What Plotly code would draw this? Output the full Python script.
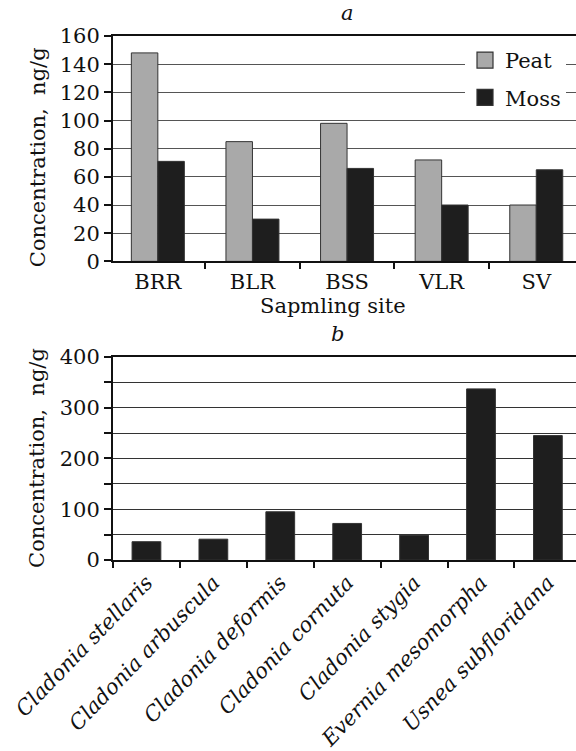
import plotly.graph_objects as go

# ---- data ----
sites = ["BRR", "BLR", "BSS", "VLR", "SV"]
peat = [148, 85, 98, 72, 40]
moss = [71, 30, 66, 40, 65]

species = ["Cladonia stellaris", "Cladonia arbuscula", "Cladonia deformis",
           "Cladonia cornuta", "Cladonia stygia", "Evernia mesomorpha",
           "Usnea subfloridana"]
lichen = [36, 41, 95, 72, 49, 337, 245]

top_ticks = [0, 20, 40, 60, 80, 100, 120, 140, 160]
bot_ticks = [0, 50, 100, 150, 200, 250, 300, 350, 400]
bot_ticktext = ["0", "", "100", "", "200", "", "300", "", "400"]

FONT = "DejaVu Serif"
FS = 21
W, H = 576, 751
L, R, T, B = 113, 0, 36, 181
PW, PH = W - L - R, H - T - B

PEAT_C, MOSS_C, EDGE_C = "#a9a9a9", "#1e1e1e", "#333333"


def px_x(x):
    return (x - L) / PW


def px_y(y):
    return 1 - (y - T) / PH


fig = go.Figure()
fig.add_trace(go.Bar(x=sites, y=peat, name="Peat", xaxis="x", yaxis="y",
                     marker=dict(color=PEAT_C, line=dict(color=EDGE_C, width=1)),
                     showlegend=False))
fig.add_trace(go.Bar(x=sites, y=moss, name="Moss", xaxis="x", yaxis="y",
                     marker=dict(color=MOSS_C, line=dict(color=EDGE_C, width=1)),
                     showlegend=False))
# legend entries (larger square swatches than the bar default)
for nm, col, grp in (("Peat", PEAT_C, "p"), ("Moss", MOSS_C, "m")):
    fig.add_trace(go.Scatter(x=[None], y=[None], name=nm, mode="markers",
                             xaxis="x", yaxis="y", legendgroup=grp,
                             marker=dict(symbol="square", size=16, color=col,
                                         line=dict(color=EDGE_C, width=1.2))))
fig.add_trace(go.Bar(x=species, y=lichen, name="Lichen", xaxis="x2", yaxis="y2",
                     width=0.43, showlegend=False,
                     marker=dict(color=MOSS_C, line=dict(color=EDGE_C, width=1))))

axis_common = dict(showline=True, linecolor="#111111", linewidth=2,
                   ticks="outside", tickcolor="#111111", tickwidth=1.5,
                   tickfont=dict(family=FONT, size=FS, color="#111111"))

fig.update_layout(
    width=W, height=H,
    margin=dict(l=L, r=R, t=T, b=B, pad=0),
    paper_bgcolor="white", plot_bgcolor="white",
    font=dict(family=FONT, size=FS, color="#111111"),
    barmode="group", bargap=0.44, bargroupgap=0,
    xaxis=dict(domain=[0, 1], anchor="y", type="category",
               range=[-0.474, 4.42], tickson="boundaries", ticklen=6,
               mirror=True, showgrid=False, **axis_common),
    yaxis=dict(domain=[0.5699, 1], anchor="x", range=[0, 160],
               tickvals=top_ticks, ticklen=7, showgrid=True,
               gridcolor="#555555", gridwidth=1, zeroline=False, **axis_common),
    xaxis2=dict(domain=[0, 1], anchor="y2", type="category",
                range=[-0.5, 6.42], tickson="boundaries", ticklen=6,
                tickangle=-46, mirror=True, showgrid=False,
                **{**axis_common,
                   "tickfont": dict(family=FONT, size=FS, color="#111111", style="italic")}),
    yaxis2=dict(domain=[0, 0.3876], anchor="x2", range=[0, 400],
                tickvals=bot_ticks, ticktext=bot_ticktext, ticklen=7,
                showgrid=True, gridcolor="#333333", gridwidth=1, zeroline=False,
                **axis_common),
    legend=dict(x=px_x(465), y=px_y(40), xanchor="left", yanchor="top",
                bgcolor="white", borderwidth=0, traceorder="grouped",
                tracegroupgap=7, itemsizing="trace",
                font=dict(family=FONT, size=FS, color="#111111")),
    showlegend=True,
)

ann = [
    dict(text="<i>a</i>", xref="x", yref="paper", x=2, y=px_y(13)),
    dict(text="Sapmling site", xref="paper", yref="paper", x=px_x(333), y=px_y(311)),
    dict(text="<i>b</i>", xref="paper", yref="paper", x=px_x(337.5), y=px_y(340)),
    dict(text="Concentration,  ng/g", xref="paper", yref="paper",
         x=px_x(37.5), y=px_y(160), textangle=-90),
    dict(text="Concentration,  ng/g", xref="paper", yref="paper",
         x=px_x(37.5), y=px_y(466.5), textangle=-90),
]
for a in ann:
    fig.add_annotation(showarrow=False, xanchor="center", yanchor="middle",
                       font=dict(family=FONT, size=FS, color="#111111"), **a)

fig.write_html("out.html", config={"displayModeBar": False},
               post_script="document.body.style.margin='0';document.body.style.padding='0';")
